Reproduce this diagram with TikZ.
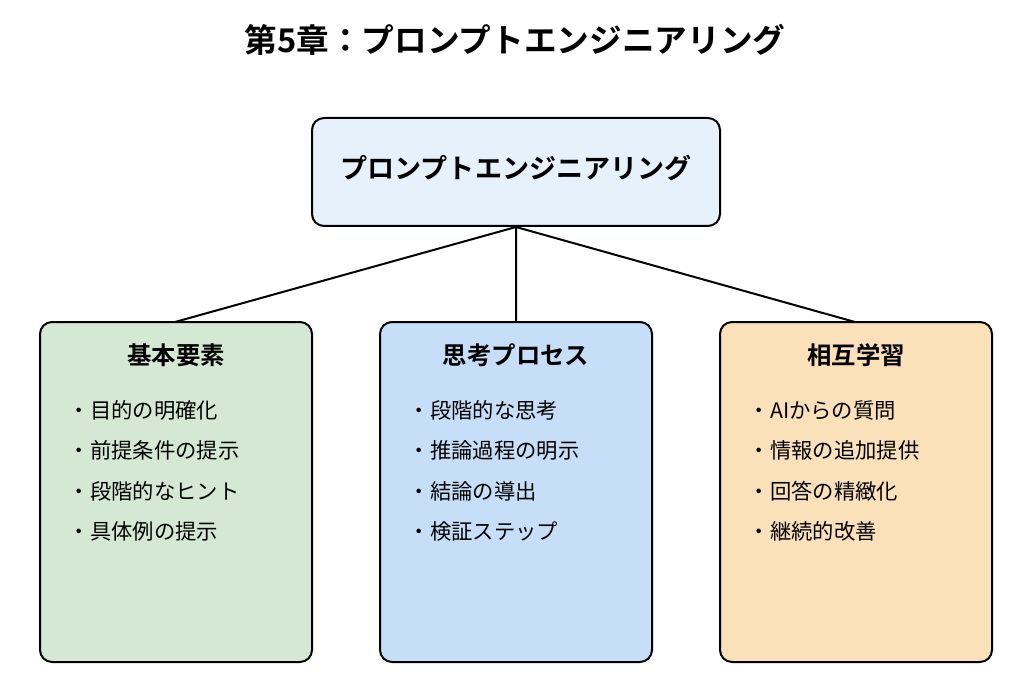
\documentclass[tikz,border=0pt]{standalone}
\usepackage{fontspec}
\setmainfont{Noto Sans CJK JP}
\newfontfamily\jpb{Noto Sans CJK JP Bold}
\begin{document}
\begin{tikzpicture}[x=0.75pt,y=-0.75pt,
 box/.style={draw=black,line width=1.5pt,rounded corners=9pt},
 it/.style={anchor=west,font=\fontsize{16pt}{17pt}\selectfont},
 hd/.style={font=\jpb\fontsize{18.3pt}{19pt}\selectfont}]
\useasboundingbox (0,0) rectangle (1024,684);
\node[font=\jpb\fontsize{24.5pt}{25pt}\selectfont] (title) at (515,40) {第5章：プロンプトエンジニアリング};
\draw[box,fill={rgb,255:red,230;green,241;blue,251}] (312,118) rectangle (720,226);
\node[font=\jpb\fontsize{20.3pt}{21pt}\selectfont] (top) at (516,168) {プロンプトエンジニアリング};
\coordinate (tb) at (516,227);
\coordinate (a) at (175,322); \coordinate (b) at (516,322); \coordinate (c) at (855,322);
\draw[line width=1.5pt] (tb)--(a) (tb)--(b) (tb)--(c);
\draw[box,fill={rgb,255:red,213;green,232;blue,212}] (40,322) rectangle (312,662);
\draw[box,fill={rgb,255:red,198;green,222;blue,247}] (380,322) rectangle (652,662);
\draw[box,fill={rgb,255:red,250;green,225;blue,185}] (720,322) rectangle (992,662);
\node[hd] (h1) at (176,355) {基本要素};
\node[hd] (h2) at (516,355) {思考プロセス};
\node[hd] (h3) at (856,355) {相互学習};
\foreach \x/\l [count=\i] in {64/{・目的の明確化,・前提条件の提示,・段階的なヒント,・具体例の提示},
 404/{・段階的な思考,・推論過程の明示,・結論の導出,・検証ステップ},
 744/{・AIからの質問,・情報の追加提供,・回答の精緻化,・継続的改善}}{
 \foreach \t [count=\j] in \l { \node[it] (i\i\j) at (\x,{410+40.5*(\j-1)}) {\t}; }
}
\end{tikzpicture}
\end{document}
